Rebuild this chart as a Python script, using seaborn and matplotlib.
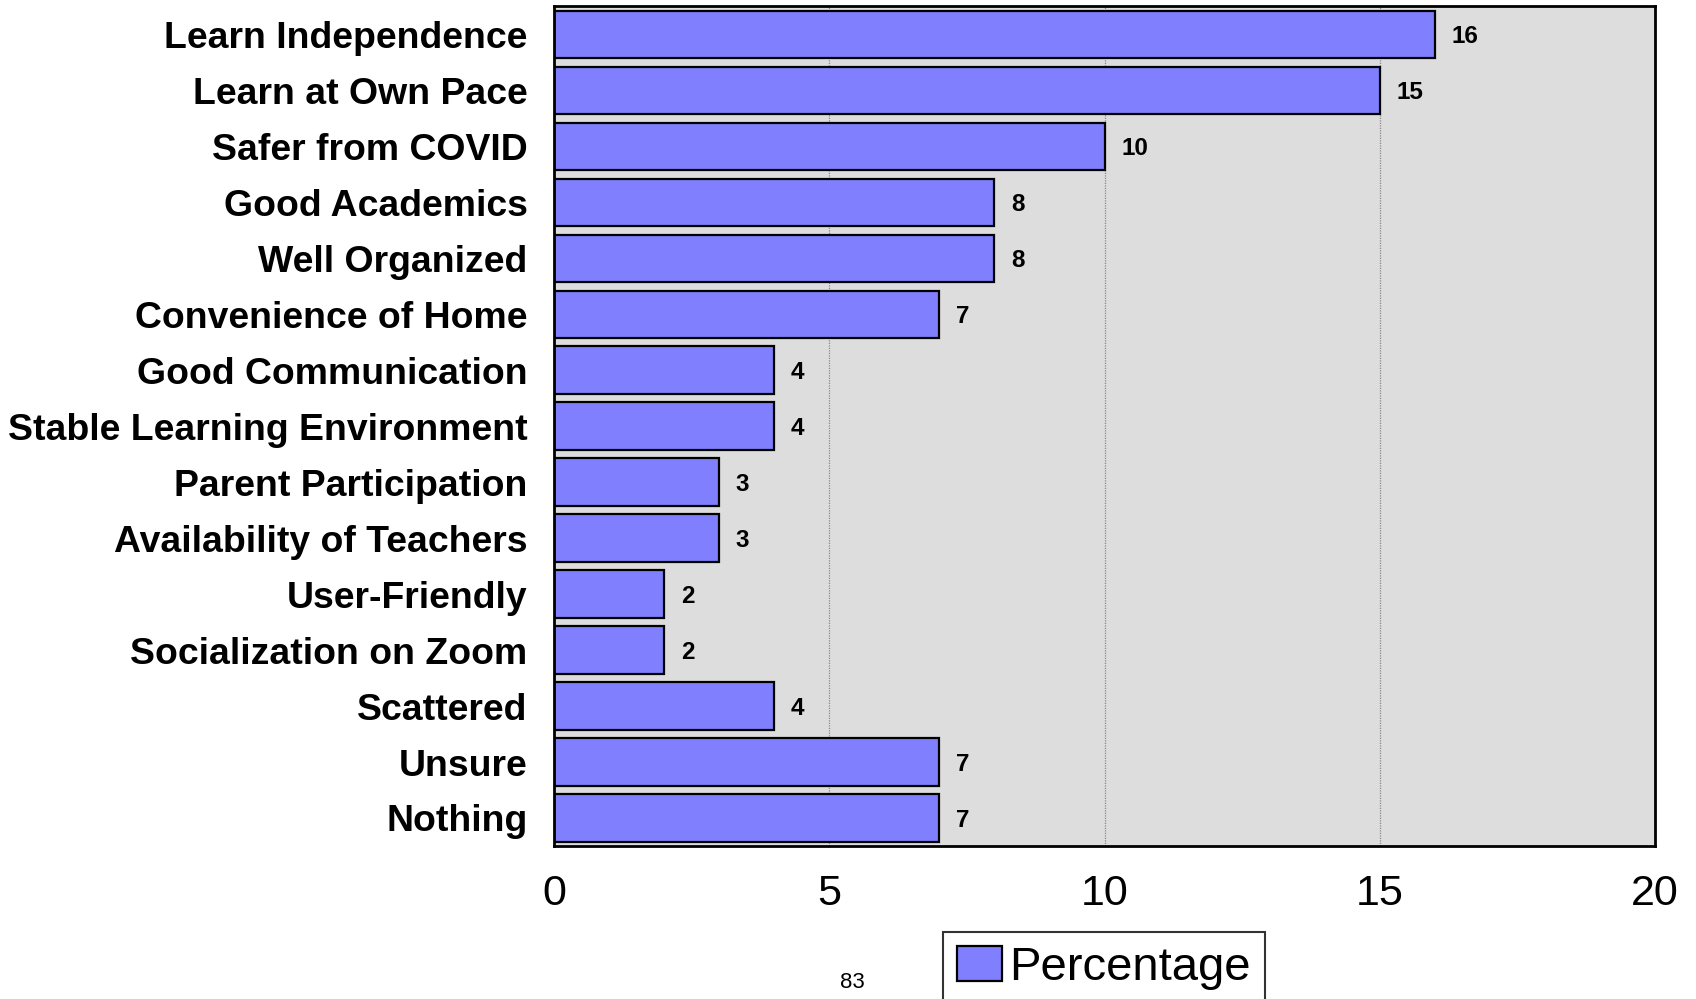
import pandas as pd
import matplotlib
matplotlib.use('Agg')
import matplotlib.pyplot as plt
import seaborn as sns

categories = ['Learn Independence', 'Learn at Own Pace', 'Safer from COVID', 'Good Academics',
              'Well Organized', 'Convenience of Home', 'Good Communication',
              'Stable Learning Environment', 'Parent Participation', 'Availability of Teachers',
              'User-Friendly', 'Socialization on Zoom', 'Scattered', 'Unsure', 'Nothing']
percentages = [16, 15, 10, 8, 8, 7, 4, 4, 3, 3, 2, 2, 4, 7, 7]
x_ticks = [0, 5, 10, 15, 20]
series_name = 'Percentage'
page_number = '83'

df = pd.DataFrame({'Category': categories, 'Value': percentages})

sns.set_style('white')
plt.rcParams['font.family'] = ['Liberation Sans', 'DejaVu Sans']
plt.rcParams['text.color'] = 'black'
plt.rcParams['xtick.color'] = 'black'
plt.rcParams['ytick.color'] = 'black'

fig = plt.figure(figsize=(16.96, 9.99), dpi=100)
ax = fig.add_axes([0.3267, 0.1532, 0.6491, 0.8403])
ax.set_facecolor('#DDDDDD')

sns.barplot(data=df, y='Category', x='Value', orient='h', color='#8080FF',
            edgecolor='black', linewidth=1.6, width=0.85, saturation=1, ax=ax)

for p, v in zip(ax.patches, percentages):
    ax.text(p.get_width() + 0.3, p.get_y() + p.get_height() / 2 + 0.04, str(v),
            va='center', ha='left', fontsize=17.5, fontweight='bold', color='black')

ax.set_xlim(0, 20)
ax.set_ylim(len(categories) - 0.5, -0.5)
ax.set_xticks(x_ticks)
ax.set_xticklabels([str(t) for t in x_ticks], fontsize=31)
ax.tick_params(axis='x', length=0, pad=20)
ax.tick_params(axis='y', length=0, pad=19, labelsize=26.9)
for lbl in ax.get_yticklabels():
    lbl.set_fontweight('bold')
ax.set_xlabel('')
ax.set_ylabel('')

ax.grid(False)
for xv in x_ticks[1:-1]:
    ax.axvline(xv, color='#888888', linestyle=(0, (1, 1)), linewidth=0.9, zorder=0.5)
ax.set_axisbelow(True)

for s in ax.spines.values():
    s.set_visible(True)
    s.set_color('black')
    s.set_linewidth(2)

leg = fig.legend(handles=[ax.patches[0]], labels=[series_name], loc='upper left',
                 bbox_to_anchor=(943 / 1696, 1 - 932 / 999), fontsize=34, frameon=True,
                 fancybox=False, edgecolor='black', handlelength=0.95, handleheight=0.75,
                 handletextpad=0.15, borderpad=0.3, borderaxespad=0)
leg.get_frame().set_linewidth(1.5)

fig.text(852 / 1696, 1 - 982 / 999, page_number, ha='center', va='center', fontsize=16)

plt.savefig('out.png', dpi=100)
